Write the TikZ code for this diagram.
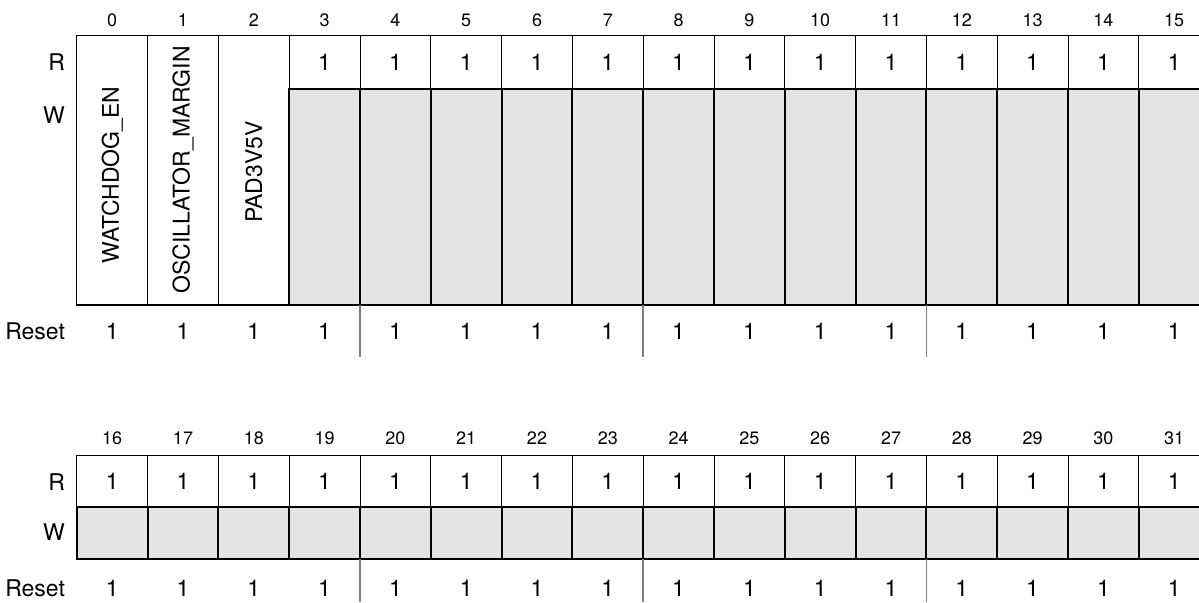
\documentclass[tikz,border=0pt]{standalone}
\usepackage{fontspec}
\setmainfont{TeX Gyre Heros}
\definecolor{wgray}{RGB}{228,228,228}
\begin{document}
\begin{tikzpicture}[x=0.5pt, y=-0.5pt,
    bitnum/.style={font=\fontsize{9}{10}\selectfont},
    bitval/.style={font=\fontsize{11.5}{13}\selectfont},
    rowlabel/.style={font=\fontsize{11.5}{13}\selectfont, anchor=east},
    thinline/.style={draw=black, line width=0.5pt},
    thickline/.style={draw=black, line width=1pt},
    wcell/.style={thickline, fill=wgray},
    sepline/.style={draw=gray, line width=0.75pt}]
    \clip (0,0) rectangle (1199,602);
    \def\cw{70.8}
    \def\xo{76.8}

    % Row labels
    \node[rowlabel] (lblRa) at (72,62) {R};
    \node[rowlabel] (lblWa) at (72,115) {W};
    \node[rowlabel] (lblReseta) at (72,331) {Reset};
    \node[rowlabel] (lblRb) at (72,482) {R};
    \node[rowlabel] (lblWb) at (72,532) {W};
    \node[rowlabel] (lblResetb) at (72,588) {Reset};

    % Bits 0-15: field cells
    \foreach \i in {0,1,2}
        \draw[thinline] ({\xo+\cw*\i},35.7) rectangle ({\xo+\cw*(\i+1)},304.7);
    \node[bitval, rotate=90] (fWatchdog) at ({\xo+\cw*0.5},175) {WATCHDOG\_EN};
    \node[bitval, rotate=90] (fOscMargin) at ({\xo+\cw*1.5},170) {OSCILLATOR\_MARGIN};
    \node[bitval, rotate=90] (fPad) at ({\xo+\cw*2.5},172) {PAD3V5V};

    % Bits 3-15: read-only ones
    \foreach \i in {3,...,15} {
        \draw[thinline] ({\xo+\cw*\i},35.7) rectangle ({\xo+\cw*(\i+1)},89);
        \draw[wcell] ({\xo+\cw*\i},89) rectangle ({\xo+\cw*(\i+1)},304.7);
        \node[bitval] (ra\i) at ({\xo+\cw*(\i+0.5)},62.3) {1};
    }
    \draw[thickline] (\xo-1,304.7) -- ({\xo+\cw*16},304.7);

    % Bit numbers and reset values
    \foreach \i in {0,...,15} {
        \node[bitnum] (na\i) at ({\xo+\cw*(\i+0.5)},20) {\i};
        \node[bitval] (rsta\i) at ({\xo+\cw*(\i+0.5)},331) {1};
    }
    \foreach \i in {4,8,12}
        \draw[sepline] ({\xo+\cw*\i},304.7) -- ({\xo+\cw*\i},357.3);

    % Bits 16-31
    \foreach \i in {0,...,15} {
        \pgfmathtruncatemacro\n{\i+16}
        \draw[thinline] ({\xo+\cw*\i},455) rectangle ({\xo+\cw*(\i+1)},507.3);
        \draw[wcell] ({\xo+\cw*\i},507.3) rectangle ({\xo+\cw*(\i+1)},559);
        \node[bitnum] (nb\n) at ({\xo+\cw*(\i+0.5)},438) {\n};
        \node[bitval] (rb\n) at ({\xo+\cw*(\i+0.5)},481.7) {1};
        \node[bitval] (rstb\n) at ({\xo+\cw*(\i+0.5)},588) {1};
    }
    \draw[thickline] (\xo-1,559) -- ({\xo+\cw*16},559);
    \foreach \i in {4,8,12}
        \draw[sepline] ({\xo+\cw*\i},559) -- ({\xo+\cw*\i},602);
\end{tikzpicture}
\end{document}
